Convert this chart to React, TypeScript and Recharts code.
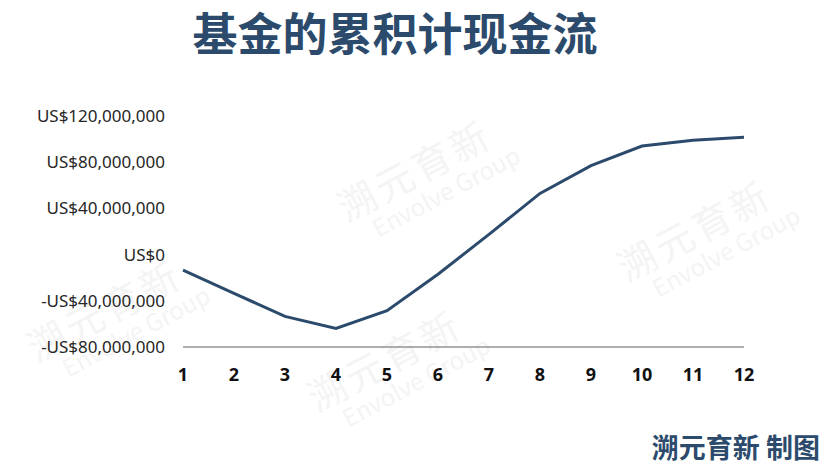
import React from 'react';
import { LineChart, Line, XAxis, YAxis } from 'recharts';

// ─── Data ────────────────────────────────────────────────────────────────────

const years = ['1', '2', '3', '4', '5', '6', '7', '8', '9', '10', '11', '12'];
const cumulativeCashFlow = [
  -13500000, -33500000, -53500000, -64000000, -48500000, -17000000,
  17500000, 53000000, 77000000, 94000000, 99000000, 101500000,
];
const yTicks = [-80000000, -40000000, 0, 40000000, 80000000, 120000000];

const data = years.map((y, i) => ({ year: y, value: cumulativeCashFlow[i] }));

const NAVY = '#2c4b6c';

const fmtUsd = (v: number) =>
  (v < 0 ? '-US$' : 'US$') + Math.abs(v).toLocaleString('en-US');

// ─── Watermark ───────────────────────────────────────────────────────────────

const marks = [
  { x: 330, y: 190 }, { x: 610, y: 250 }, { x: 300, y: 380 }, { x: 20, y: 330 },
];

function Watermark() {
  return (
    <>
      {marks.map((m, i) => (
        <div
          key={i}
          style={{
            position: 'absolute', left: m.x, top: m.y,
            transform: 'rotate(-28deg)', transformOrigin: 'left top',
            color: '#f4f4f5', fontFamily: '"Noto Sans CJK SC", sans-serif',
            lineHeight: 1.1, pointerEvents: 'none', whiteSpace: 'nowrap',
          }}
        >
          <div style={{ fontSize: 38, fontWeight: 400, letterSpacing: 4 }}>溯元育新</div>
          <div style={{ fontSize: 24, fontWeight: 400, marginLeft: 20 }}>Envolve Group</div>
        </div>
      ))}
    </>
  );
}

// ─── Chart ───────────────────────────────────────────────────────────────────

export default function App() {
  return (
    <div
      style={{
        position: 'absolute', left: 0, top: 0, width: 836, height: 471,
        background: '#fff', overflow: 'hidden',
        fontFamily: '"Noto Sans", sans-serif',
      }}
    >
      <Watermark />
      <div
        style={{
          position: 'absolute', left: 0, top: 4, width: 790, textAlign: 'center',
          fontFamily: '"Noto Sans CJK SC", sans-serif', fontWeight: 700,
          fontSize: 45, color: NAVY, lineHeight: '56px',
        }}
      >
        基金的累积计现金流
      </div>
      <div style={{ position: 'absolute', left: 0, top: 0 }}>
        <LineChart
          width={836}
          height={471}
          data={data}
          margin={{ top: 116, right: 92, bottom: 74, left: 8 }}
        >
          <XAxis
            dataKey="year"
            axisLine={{ stroke: '#5f5f5f', strokeWidth: 1 }}
            tickLine={false}
            tickMargin={15}
            height={50}
            interval={0}
            tick={{ fill: '#111', fontSize: 18, fontWeight: 700 }}
          />
          <YAxis
            width={175}
            domain={[-80000000, 120000000]}
            ticks={yTicks}
            axisLine={false}
            tickLine={false}
            tickMargin={12}
            tickFormatter={fmtUsd}
            tick={{ fill: '#262626', fontSize: 17 }}
          />
          <Line
            type="linear"
            dataKey="value"
            stroke={NAVY}
            strokeWidth={3}
            dot={false}
            isAnimationActive={false}
          />
        </LineChart>
      </div>
      <div
        style={{
          position: 'absolute', right: 16, top: 429,
          fontFamily: '"Noto Sans CJK SC", sans-serif', fontWeight: 700,
          fontSize: 27, color: NAVY, lineHeight: '36px',
        }}
      >
        溯元育新 制图
      </div>
    </div>
  );
}
